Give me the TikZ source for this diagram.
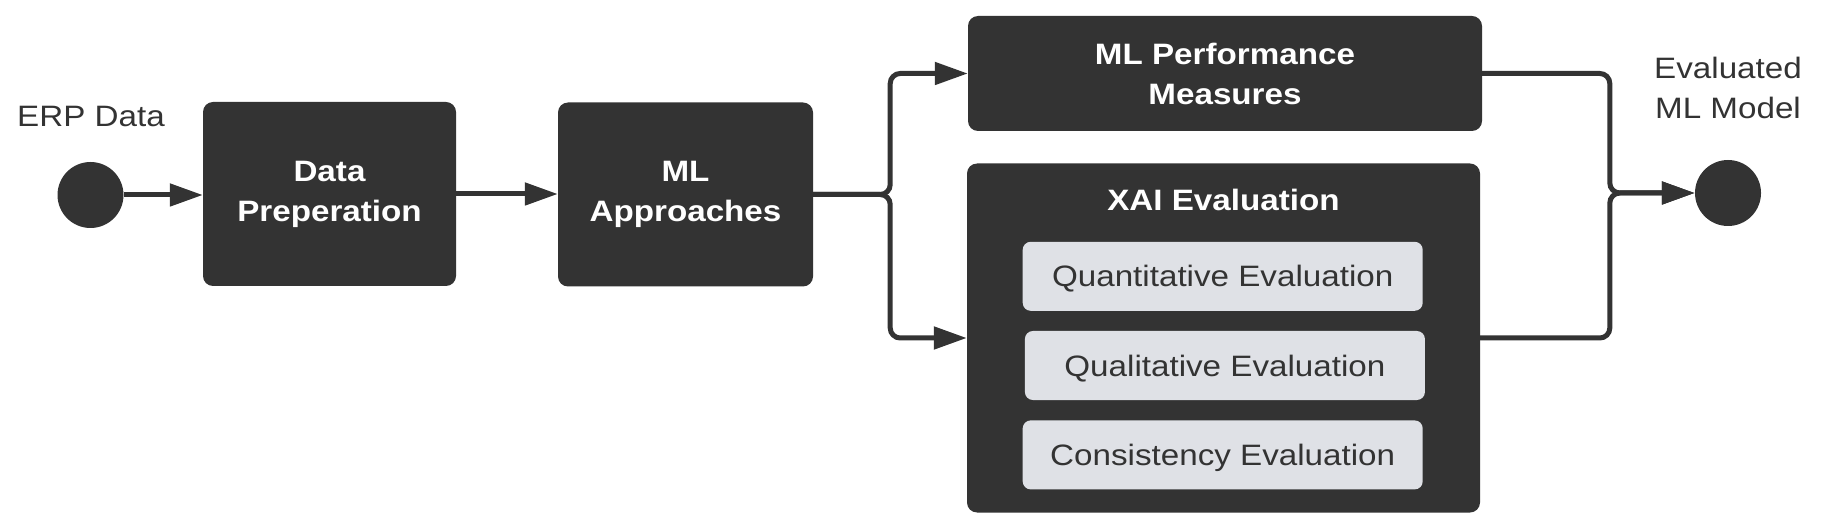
\documentclass[tikz,border=0pt]{standalone}
\usepackage{fontspec}
\setmainfont{Liberation Sans}[FakeStretch=1.125]
\usetikzlibrary{arrows.meta,calc}
\definecolor{dark}{HTML}{333333}
\definecolor{light}{HTML}{DFE1E6}
\begin{document}
\begin{tikzpicture}[x=1pt,y=-1pt,
  txt/.style={font=\fontsize{29.5}{40}\selectfont, text=dark, inner sep=0pt},
  darkbox/.style={fill=dark, rounded corners=10pt, text=white, font=\fontsize{29.5}{40}\selectfont\bfseries, align=center, inner sep=0pt},
  boxtitle/.style={text=white, font=\fontsize{29.5}{40}\selectfont\bfseries, inner sep=0pt},
  subbox/.style={fill=light, rounded corners=8pt, text=dark, font=\fontsize{29.5}{40}\selectfont, minimum width=400pt, minimum height=69pt, text height=21pt, text depth=0pt, inner sep=0pt},
  dot/.style={circle, fill=dark, minimum size=66pt, inner sep=0pt},
  conn/.style={draw=dark, line width=5pt, rounded corners=10pt, -{Triangle[length=33pt,width=22pt]}}]
\useasboundingbox (0,0) rectangle (1822,526);
% nodes
\node[dot] (start) at (90.5,195) {};
\node[txt, anchor=base] (erp) at (91,127) {ERP Data};
\node[darkbox, minimum width=253pt, minimum height=184pt] (dp) at (329.5,194) {Data\\Preperation};
\node[darkbox, minimum width=255pt, minimum height=184pt] (mla) at (685.5,194.5) {ML\\Approaches};
\node[darkbox, minimum width=514pt, minimum height=115pt] (pm) at (1225,73.5) {ML Performance\\Measures};
\node[darkbox, minimum width=513pt, minimum height=349pt] (xai) at (1223.5,338) {};
\node[boxtitle, anchor=base] (xait) at (1223.5,210.5) {XAI Evaluation};
\node[subbox] (q1) at (1222.7,276.3) {Quantitative Evaluation};
\node[subbox] (q2) at (1224.9,365.5) {Qualitative Evaluation};
\node[subbox] (q3) at (1222.7,454.9) {Consistency Evaluation};
\node[dot] (end) at (1728,193) {};
\node[txt, align=center] (evl) at (1728,88.4) {Evaluated\\ML Model};
% junction points
\coordinate (jl) at ([xshift=77pt]mla.east);
\coordinate (jr) at ([xshift=-85pt]end.west);
% connectors
\draw[conn] (start.east) -- (start.east -| dp.west);
\draw[conn] (dp.east) -- (dp.east -| mla.west);
\draw[conn] (mla.east) -- (jl) |- (pm.west);
\draw[conn] (mla.east) -- (jl) |- (xai.west);
\draw[conn] (pm.east) -| (jr) -- (end.west);
\draw[conn] (xai.east) -| (jr) -- (end.west);
\end{tikzpicture}
\end{document}
